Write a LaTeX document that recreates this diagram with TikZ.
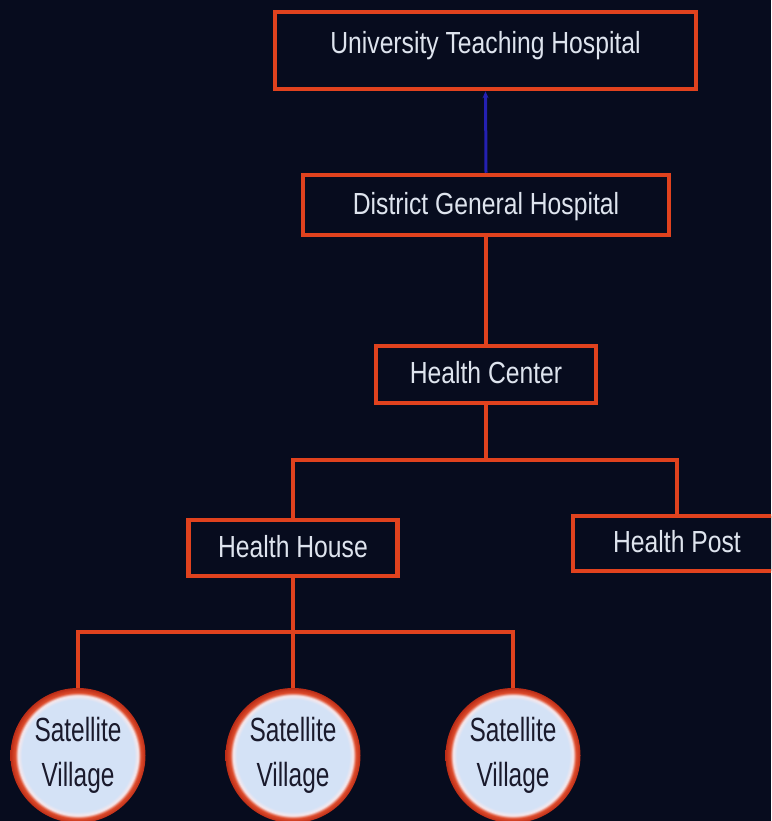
\documentclass[tikz,border=0pt]{standalone}
\usepackage{fontspec}
\usepackage{graphicx}
\setmainfont{Liberation Sans}
\usetikzlibrary{arrows.meta}

\definecolor{bgnavy}{RGB}{7,12,30}
\definecolor{linkred}{RGB}{224,66,30}
\definecolor{boxtext}{RGB}{222,228,238}
\definecolor{uplink}{RGB}{36,32,178}
\definecolor{svfill}{RGB}{212,226,246}
\definecolor{svglow}{RGB}{246,232,236}
\definecolor{svrim}{RGB}{222,76,44}
\definecolor{svrimdark}{RGB}{186,44,22}
\definecolor{svtext}{RGB}{26,26,44}

% light disc with a glowing red rim
\pgfdeclareradialshading{villagedisc}{\pgfpoint{0bp}{0bp}}{%
  color(0bp)=(svfill); color(20.8bp)=(svfill); color(22.2bp)=(svglow);
  color(23.3bp)=(svrim); color(25bp)=(svrimdark); color(50bp)=(svrimdark)}

\newcommand{\narrow}[2]{\scalebox{#1}[1]{#2}}

\tikzset{
  unit/.style={draw=linkred, line width=4.5pt, fill=bgnavy, rectangle,
    text=boxtext, font=\fontsize{30.5}{36}\selectfont,
    text height=22pt, text depth=3.2pt, inner sep=0pt},
  village/.style={circle, minimum size=135pt, inner sep=0pt,
    shading=villagedisc, text=svtext, align=center,
    font=\fontsize{33.5}{44.7}\selectfont},
  link/.style={draw=linkred, line width=4pt},
  uparrow/.style={draw=uplink, line width=3pt,
    -{Stealth[length=7pt,width=6pt]}}
}

\begin{document}
\begin{tikzpicture}[x=1pt,y=-1pt]
  \fill[bgnavy] (0,0) rectangle (771,821);
  \useasboundingbox (0,0) rectangle (771,821);
  \clip (0,0) rectangle (771,821);

  % facilities
  \node[unit, minimum width=421pt, minimum height=77pt, text depth=16.2pt]
    (uth) at (485.5,50.5) {\narrow{0.81}{University Teaching Hospital}};
  \node[unit, minimum width=366pt, minimum height=60pt]
    (dgh) at (486,205) {\narrow{0.81}{District General Hospital}};
  \node[unit, minimum width=220pt, minimum height=57pt]
    (hc) at (486,374.5) {\narrow{0.81}{Health Center}};
  \node[unit, minimum width=209pt, minimum height=56pt]
    (hh) at (293,548) {\narrow{0.81}{Health House}};
  \node[unit, minimum width=208pt, minimum height=55pt]
    (hp) at (677,543.5) {\narrow{0.81}{Health Post}};

  % villages
  \node[village] (sv1) at (78,755.5)
    {\narrow{0.73}{Satellite}\\\narrow{0.73}{Village}};
  \node[village] (sv2) at (293,755.5)
    {\narrow{0.73}{Satellite}\\\narrow{0.73}{Village}};
  \node[village] (sv3) at (513,755.5)
    {\narrow{0.73}{Satellite}\\\narrow{0.73}{Village}};

  % branch points
  \coordinate (hcfork) at (486,460);
  \coordinate (hhfork) at (293,632);

  % referral links
  \draw[uparrow] (dgh.north) -- (uth.south);
  \draw[link] (dgh.south) -- (hc.north);
  \draw[link] (hc.south) -- (hcfork);
  \draw[link] (hh.north) |- (hcfork);
  \draw[link] (hp.north) |- (hcfork);
  \draw[link] (hh.south) -- (hhfork);
  \draw[link] (sv1.north) |- (hhfork);
  \draw[link] (sv2.north) -- (hhfork);
  \draw[link] (sv3.north) |- (hhfork);
\end{tikzpicture}
\end{document}
